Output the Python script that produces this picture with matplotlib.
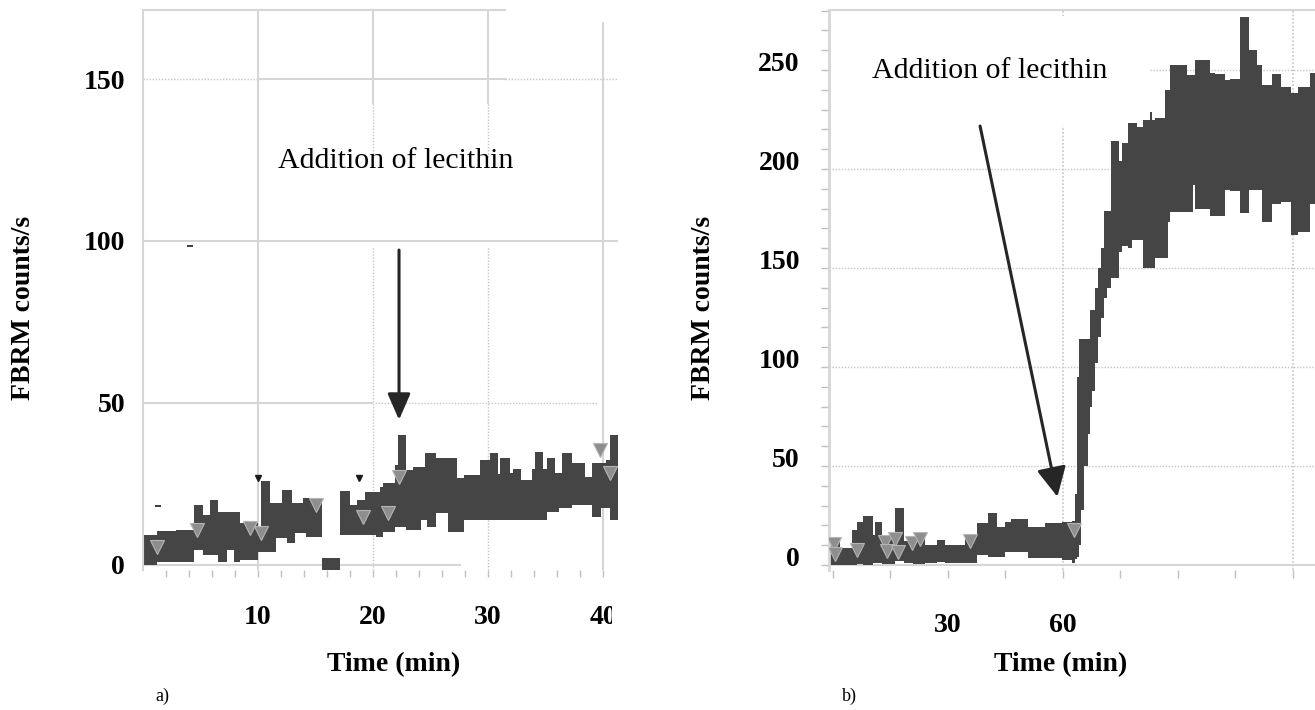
import numpy as np
import matplotlib
matplotlib.use('Agg')
import matplotlib.pyplot as plt
from matplotlib.patches import Rectangle
from matplotlib.transforms import ScaledTranslation

plt.rcParams['font.family'] = 'Liberation Serif'
plt.rcParams['font.weight'] = 'bold'
plt.rcParams['axes.labelweight'] = 'bold'

# a) FBRM trace, 0-41 min: step start times with upper / lower edge of the noisy band
time_a = [0.1, 1.2, 2.9, 4.4, 5.25, 5.8, 6.55, 7.3, 7.9, 8.4, 10.0, 10.3, 11.0, 11.6,
          12.06, 12.5, 12.93, 13.2, 13.94, 14.2, 15.54, 17.13, 18.0, 18.58, 19.3, 20.3,
          20.6, 20.9, 21.9, 22.2, 22.9, 23.5, 24.2, 24.5, 24.7, 25.5, 26.5, 27.3, 27.9,
          29.3, 30.2, 30.9, 31.0, 31.9, 32.2, 32.9, 33.8, 34.1, 34.8, 35.1, 35.8, 36.2,
          36.4, 37.3, 38.4, 39.0, 39.8, 40.3, 40.6, 41.3]
high_a = [9.3, 10.6, 10.8, 18.5, 15.4, 20.1, 16.2, 16.2, 16.2, 12.9, 9.8, 26.0, 19.2, 19.2,
          23.1, 23.1, 19.0, 19.0, 20.6, 20.6, 2.1, 22.7, 18.5, 20.1, 22.6, 22.6,
          24.2, 25.2, 30.9, 40.1, 29.3, 30.3, 30.3, 34.5, 34.5, 32.9, 32.9, 26.8, 27.8,
          32.4, 34.5, 28.0, 32.9, 28.3, 29.5, 26.2, 29.5, 35.0, 29.5, 32.9, 28.3, 28.3,
          34.5, 31.4, 27.3, 31.4, 31.4, 32.5, 40.1, 40.1]
low_a = [0.0, 1.0, 1.0, 4.6, 3.1, 3.1, 1.0, 4.6, 1.0, 1.5, 4.1, 4.1, 4.1, 8.2,
         8.2, 6.7, 6.7, 9.8, 9.8, 8.7, -1.5, 9.3, 9.3, 9.3, 9.3, 8.7,
         8.7, 10.3, 11.8, 11.8, 10.8, 10.8, 13.9, 13.9, 11.8, 15.9, 10.3, 10.3, 13.9,
         13.9, 13.9, 13.9, 13.9, 13.9, 13.9, 13.9, 13.9, 13.9, 13.9, 16.5, 16.5, 17.5,
         17.5, 18.5, 18.5, 14.9, 17.5, 17.5, 13.9, 13.9]
mark_t_a = [1.2, 4.67, 9.3, 10.3, 15.0, 19.1, 21.3, 22.3, 39.7, 40.6]
mark_v_a = [5.4, 10.8, 11.4, 9.9, 18.6, 14.9, 16.0, 27.3, 35.5, 28.4]
event_t_a = [10.0, 18.8]
event_v_a = [27.0, 27.0]
dash_t_a = [1.3, 4.1]
dash_v_a = [18.3, 98.5]

# b) FBRM trace, 0-126 min
time_b = [-1.3, 1.8, 4.9, 6.2, 7.9, 10.5, 10.9, 12.9, 16.2, 18.5, 21.0, 24.0, 27.1, 29.2,
          34.5, 37.5, 40.6, 42.7, 44.9, 46.6, 51.0, 55.4, 59.7, 62.3, 63.2, 63.6, 64.3,
          64.8, 65.5, 66.5, 67.1, 67.7, 68.4, 69.2, 70.0, 70.8, 71.6, 72.5, 74.6, 75.4,
          76.9, 78.0, 79.3, 81.0, 82.8, 83.2, 84.1, 86.7, 87.5, 88.0, 92.3, 94.0, 94.5,
          98.4, 99.7, 102.3, 103.6, 106.3, 108.7, 110.6, 111.9, 114.5, 117.1, 119.7,
          121.5, 124.5, 126.0]
high_b = [14.0, 8.4, 17.7, 21.9, 24.8, 15.2, 21.9, 14.3, 28.6, 12.0, 13.0, 10.0, 12.6, 10.0,
          15.0, 21.4, 26.1, 19.4, 21.9, 23.1, 19.4, 21.0, 21.9, 22.0, 36.0, 95.0, 114.0,
          114.0, 114.0, 114.0, 129.0, 129.0, 140.0, 150.0, 160.0, 179.0, 179.0, 214.0, 204.0, 213.0,
          223.0, 223.0, 221.0, 225.0, 229.0, 225.0, 226.0, 240.0, 240.0, 252.5, 247.5, 247.5, 255.0,
          248.7, 248.0, 245.0, 245.6, 277.0, 260.0, 252.5, 242.4, 248.0, 241.6, 238.3,
          241.6, 248.7, 248.7]
low_b = [0.0, 0.0, 0.0, 0.5, 0.0, 1.0, 1.0, 0.5, 2.0, 1.0, 0.5, 1.0, 1.5, 1.0,
         1.0, 5.0, 4.0, 4.0, 6.7, 6.7, 3.5, 3.4, 2.5, 1.0, 3.0, 4.0, 10.0,
         28.0, 50.0, 66.0, 80.0, 88.0, 102.0, 115.0, 125.0, 135.0, 140.0, 145.0, 158.0, 161.0,
         160.0, 164.0, 164.0, 150.0, 150.0, 150.0, 155.0, 155.0, 173.0, 178.5, 178.5, 192.0, 180.0,
         176.5, 176.5, 189.6, 189.0, 177.7, 189.6, 189.6, 173.2, 182.5, 183.5, 166.7,
         168.4, 182.5, 182.5]
mark_t_b = [0.2, 0.4, 6.2, 13.6, 14.0, 16.2, 17.0, 20.5, 22.8, 35.8, 62.8]
mark_v_b = [10.5, 5.5, 7.6, 11.8, 7.0, 13.2, 6.8, 10.9, 13.0, 12.2, 17.8]

BAND = '#454545'
MARK_FACE = '#8e8e8e'
MARK_EDGE = '#b4b4b4'
GRID = '#d6d6d6'
DOTS = '#c6c6c6'
TICK = '#c0c0c0'
ARROW = '#262626'
DOTTED = (0, (1, 1.2))


def px_box(left, top, right, bottom, w=1315, h=710):
    return [left / w, 1 - bottom / h, (right - left) / w, (bottom - top) / h]


fig = plt.figure(figsize=(13.15, 7.10), dpi=100)
fig.patch.set_facecolor('white')
ax_a = fig.add_axes(px_box(143, 10, 618, 570))
ax_b = fig.add_axes(px_box(829, 10, 1315, 570))

# ---- panel a
ax_a.set_xlim(0, 41.3)
ax_a.set_ylim(-1.55, 171.3)
for side in ('top', 'right', 'bottom'):
    ax_a.spines[side].set_visible(False)
ax_a.spines['left'].set_color(GRID)
ax_a.spines['left'].set_linewidth(1.5)

ax_a.axvline(10, color=GRID, lw=1.5, zorder=1)
ax_a.axvline(40, ymax=0.977, color=GRID, lw=1.5, zorder=1)
for x in (20, 30):
    ax_a.axvline(x, ymin=0.834, ymax=1.0, color=GRID, lw=1.5, zorder=1)
    ax_a.axvline(x, ymin=0.7375, ymax=0.834, color=DOTS, lw=1, ls=DOTTED, zorder=1)
    ax_a.axvline(x, ymin=0.0, ymax=0.577, color=DOTS, lw=1, ls=DOTTED, zorder=1)
ax_a.axhline(100, color=GRID, lw=1.5, zorder=1)
ax_a.axhline(50, xmax=0.482, color=GRID, lw=1.5, zorder=1)
ax_a.axhline(50, xmin=0.488, xmax=0.956, color=DOTS, lw=1, ls=DOTTED, zorder=1)
ax_a.axhline(150, xmax=0.242, color=DOTS, lw=1, ls=DOTTED, zorder=1)
ax_a.axhline(150, xmin=0.242, xmax=0.762, color=GRID, lw=1.5, zorder=1)
ax_a.axhline(150, xmin=0.762, color=DOTS, lw=1, ls=DOTTED, zorder=1)
ax_a.axhline(0, xmax=0.668, color=GRID, lw=1.5, zorder=1)
ax_a.plot([0, 0.762], [1, 1], transform=ax_a.transAxes, color=GRID, lw=1.5, clip_on=False)

ax_a.fill_between(time_a, low_a, high_a, step='post', color=BAND, lw=0, zorder=2)
ax_a.plot(mark_t_a, mark_v_a, 'v', ms=10, mfc=MARK_FACE, mec=MARK_EDGE, mew=0.8, zorder=3)
ax_a.plot(event_t_a, event_v_a, 'v', ms=5, color='#1a1a1a', zorder=3)
ax_a.plot(dash_t_a, dash_v_a, '_', ms=5, mew=1.2, color='#1a1a1a', zorder=3)

ax_a.set_xticks([10, 20, 30, 40])
ax_a.set_xticks(np.arange(2, 42, 2), minor=True)
ax_a.tick_params(axis='x', which='both', length=5, width=1, color=TICK)
ax_a.tick_params(axis='x', which='major', pad=20, labelsize=20)
ax_a.set_yticks([0, 50, 100, 150])
ax_a.tick_params(axis='y', length=0, pad=13, labelsize=20)

ax_a.set_xlabel('Time (min)', fontsize=20, fontweight='bold')
ax_a.xaxis.set_label_coords(0.528, -0.146)
ax_a.set_ylabel('FBRM counts/s', fontsize=20, fontweight='bold')
ax_a.yaxis.set_label_coords(-0.2253, 0.468)

ax_a.text(22.0, 122.5, 'Addition of lecithin', ha='center', va='baseline',
          fontsize=21.5, fontweight='normal', zorder=1.5)
ax_a.annotate('', xy=(22.26, 44.8), xytext=(22.26, 97.2),
              arrowprops=dict(arrowstyle='-|>,head_length=0.8,head_width=0.35',
                              color=ARROW, lw=2.2, shrinkA=0, shrinkB=0,
                              mutation_scale=20))

# ---- panel b
ax_b.set_xlim(-1.04, 125.85)
ax_b.set_ylim(-2.5, 280.3)
for side in ('right', 'bottom'):
    ax_b.spines[side].set_visible(False)
ax_b.spines['left'].set_color(GRID)
ax_b.spines['left'].set_linewidth(2)
ax_b.spines['top'].set_color(GRID)
ax_b.spines['top'].set_linewidth(1.5)

for y in (50, 100, 150, 200, 250):
    ax_b.axhline(y, color=DOTS, lw=1, ls=DOTTED, zorder=1)
for x in (60, 120):
    ax_b.axvline(x, color=DOTS, lw=1.2, ls=DOTTED, zorder=1)
ax_b.axhline(0, color=GRID, lw=1.5, zorder=1)

ax_b.fill_between(time_b, low_b, high_b, step='post', color=BAND, lw=0, zorder=2)
ax_b.plot(mark_t_b, mark_v_b, 'v', ms=10, mfc=MARK_FACE, mec=MARK_EDGE, mew=0.8, zorder=3)

ax_b.set_xticks(np.arange(0, 121, 15))
ax_b.set_xticklabels(['', '', '30', '', '60', '', '', '', ''])
ax_b.tick_params(axis='x', length=6, width=1, color=TICK, pad=25, labelsize=20)
ax_b.set_yticks([0, 50, 100, 150, 200, 250])
ax_b.set_yticks(np.arange(0, 281, 10), minor=True)
ax_b.tick_params(axis='y', which='both', length=6, width=1, color=TICK)
ax_b.tick_params(axis='y', which='major', pad=15, labelsize=20)
lift = ScaledTranslation(0, 0.09, fig.dpi_scale_trans)
for lab in ax_b.get_yticklabels():
    lab.set_transform(lab.get_transform() + lift)

ax_b.set_xlabel('Time (min)', fontsize=20, fontweight='bold')
ax_b.xaxis.set_label_coords(0.477, -0.146)
ax_b.set_ylabel('FBRM counts/s', fontsize=20, fontweight='bold')
ax_b.yaxis.set_label_coords(-0.2325, 0.468)

ax_b.text(40.9, 246, 'Addition of lecithin', ha='center', va='baseline',
          fontsize=21.5, fontweight='normal', zorder=1.5,
          bbox=dict(facecolor='white', edgecolor='none', pad=30))
ax_b.annotate('', xy=(58.6, 34.5), xytext=(38.4, 221.7),
              arrowprops=dict(arrowstyle='-|>,head_length=0.9,head_width=0.45',
                              color=ARROW, lw=2.2, shrinkA=0, shrinkB=0,
                              mutation_scale=20))

# panel tags
fig.text(155 / 1315, 1 - 696 / 710, 'a)', fontsize=13, fontweight='normal', va='center')
fig.text(842 / 1315, 1 - 696 / 710, 'b)', fontsize=13, fontweight='normal', va='center')

# the last time label of panel a is cut at the panel edge
fig.add_artist(Rectangle((612 / 1315, 1 - 645 / 710), 30 / 1315, 55 / 710,
                         transform=fig.transFigure, facecolor='white',
                         edgecolor='none', zorder=10))

fig.savefig('out.png', dpi=100, facecolor='white')
